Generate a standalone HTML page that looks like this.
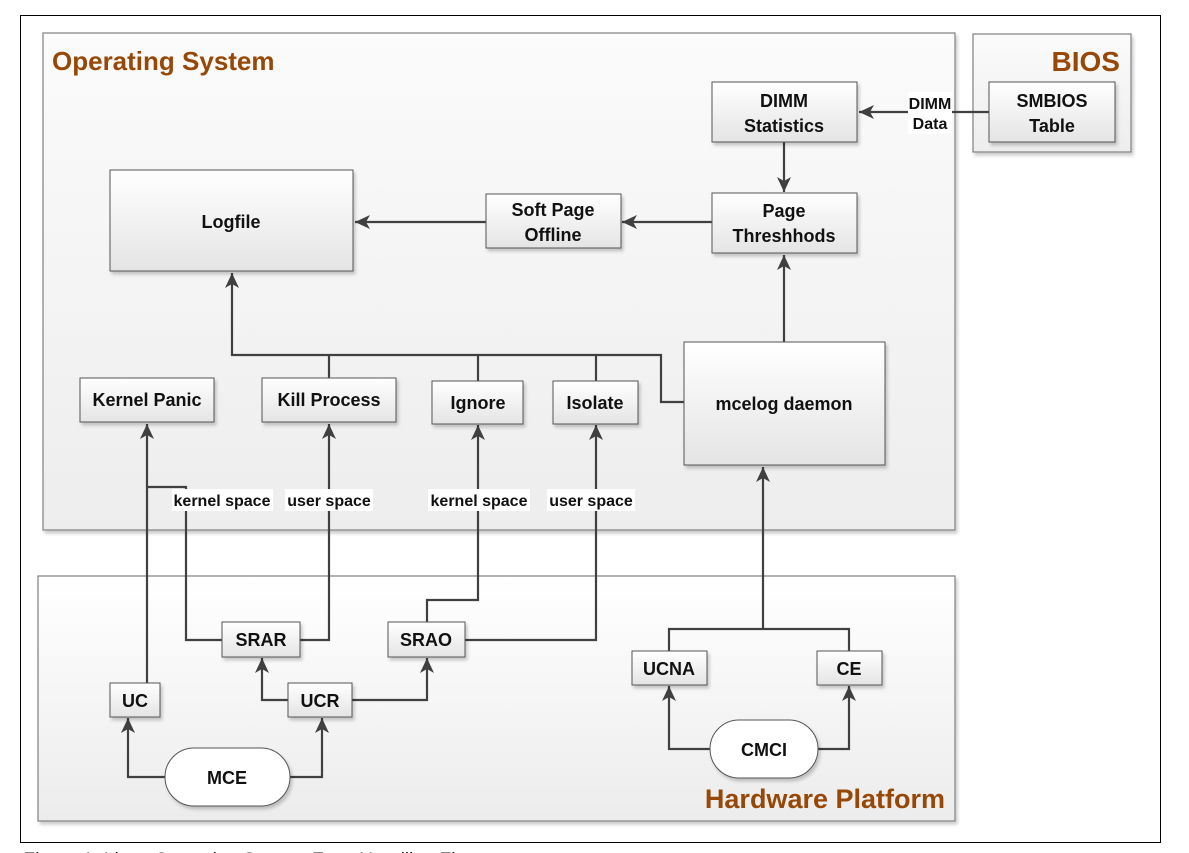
<!DOCTYPE html>
<html><head><meta charset="utf-8"><style>
html,body{margin:0;padding:0;background:#fff;width:1189px;height:853px;overflow:hidden}
svg{display:block}
text{font-family:"Liberation Sans",sans-serif;font-weight:bold;fill:#111}
</style></head><body>
<svg width="1189" height="853" viewBox="0 0 1189 853" xmlns="http://www.w3.org/2000/svg">
<defs>
<linearGradient id="g" x1="0" y1="0" x2="0" y2="1"><stop offset="0" stop-color="#ffffff"/><stop offset="1" stop-color="#e4e4e4"/></linearGradient>
<linearGradient id="cont" x1="0" y1="0" x2="0" y2="1"><stop offset="0" stop-color="#fbfbfb"/><stop offset="1" stop-color="#ededed"/></linearGradient>
<linearGradient id="hw" x1="0" y1="0" x2="0" y2="1"><stop offset="0" stop-color="#ffffff"/><stop offset="1" stop-color="#ececec"/></linearGradient>
<filter id="sh" x="-10%" y="-10%" width="130%" height="140%"><feDropShadow dx="2" dy="3" stdDeviation="1.5" flood-color="#000" flood-opacity="0.2"/></filter>
<marker id="a" markerWidth="16" markerHeight="14" refX="15" refY="7" orient="auto" markerUnits="userSpaceOnUse"><path d="M0,0 L15,7 L0,14 L4,7 z" fill="#404040"/></marker>
</defs>
<rect x="20.5" y="15.5" width="1140" height="827" fill="#fff" stroke="#000" stroke-width="1"/>
<rect x="43" y="33" width="912" height="497" fill="url(#cont)" stroke="#808080" stroke-width="1.2" filter="url(#sh)"/>
<rect x="38" y="576" width="917" height="245" fill="url(#hw)" stroke="#808080" stroke-width="1.2" filter="url(#sh)"/>
<rect x="973" y="34" width="158" height="118" fill="url(#cont)" stroke="#808080" stroke-width="1.2" filter="url(#sh)"/>
<text x="52" y="70" font-size="26" style="fill:#974806">Operating System</text>
<text x="1120" y="71" font-size="28" text-anchor="end" style="fill:#974806">BIOS</text>
<text x="945" y="808" font-size="27" text-anchor="end" style="fill:#974806">Hardware Platform</text>

<g stroke="#404040" stroke-width="2.2" fill="none">
<line x1="989" y1="112" x2="859" y2="112" marker-end="url(#a)"/>
<line x1="784" y1="142" x2="784" y2="192" marker-end="url(#a)"/>
<line x1="712" y1="222" x2="622" y2="222" marker-end="url(#a)"/>
<line x1="486" y1="222" x2="355" y2="222" marker-end="url(#a)"/>
<line x1="784" y1="342" x2="784" y2="255" marker-end="url(#a)"/>
<polyline points="684,402 661,402 661,355 232,355 232,273" marker-end="url(#a)"/>
<line x1="329" y1="355" x2="329" y2="378"/>
<line x1="478" y1="355" x2="478" y2="381"/>
<line x1="596" y1="355" x2="596" y2="381"/>
<line x1="147" y1="683" x2="147" y2="424" marker-end="url(#a)"/>
<polyline points="147,487 186,487 186,640 222,640"/>
<polyline points="300,640 329,640 329,424" marker-end="url(#a)"/>
<polyline points="427,622 427,600 478,600 478,425" marker-end="url(#a)"/>
<polyline points="465,640 596,640 596,425" marker-end="url(#a)"/>
<polyline points="165,777 128,777 128,718" marker-end="url(#a)"/>
<polyline points="290,777 322,777 322,718" marker-end="url(#a)"/>
<polyline points="288,700 262,700 262,658" marker-end="url(#a)"/>
<polyline points="352,700 427,700 427,658" marker-end="url(#a)"/>
<line x1="763" y1="629" x2="763" y2="467" marker-end="url(#a)"/>
<polyline points="669,651 669,629 849,629 849,651"/>
<polyline points="710,749 669,749 669,686" marker-end="url(#a)"/>
<polyline points="818,749 849,749 849,686" marker-end="url(#a)"/>
</g>

<rect x="908" y="92" width="44" height="42" fill="#fff"/>
<text x="930" y="109" font-size="16" text-anchor="middle">DIMM</text>
<text x="930" y="129" font-size="16" text-anchor="middle">Data</text>
<rect x="172" y="489" width="101" height="22" fill="#fff"/>
<text x="222" y="506" font-size="16" text-anchor="middle">kernel space</text>
<rect x="285" y="489" width="88" height="22" fill="#fff"/>
<text x="329" y="506" font-size="16" text-anchor="middle">user space</text>
<rect x="428" y="489" width="102" height="22" fill="#fff"/>
<text x="479" y="506" font-size="16" text-anchor="middle">kernel space</text>
<rect x="547" y="489" width="88" height="22" fill="#fff"/>
<text x="591" y="506" font-size="16" text-anchor="middle">user space</text>

<g fill="url(#g)" stroke="#555" stroke-width="1" filter="url(#sh)">
<rect x="989" y="82" width="126" height="60"/>
<rect x="712" y="82" width="145" height="60"/>
<rect x="712" y="193" width="145" height="60"/>
<rect x="486" y="194" width="135" height="54"/>
<rect x="110" y="170" width="243" height="101"/>
<rect x="684" y="342" width="201" height="123"/>
<rect x="80" y="378" width="134" height="44"/>
<rect x="262" y="378" width="134" height="44"/>
<rect x="432" y="381" width="91" height="43"/>
<rect x="553" y="381" width="85" height="43"/>
<rect x="222" y="622" width="78" height="35"/>
<rect x="388" y="622" width="77" height="35"/>
<rect x="110" y="683" width="50" height="34"/>
<rect x="288" y="683" width="64" height="34"/>
<rect x="632" y="651" width="75" height="34"/>
<rect x="817" y="651" width="65" height="34"/>
<rect x="165" y="748" width="125" height="58" rx="29" fill="#fff"/>
<rect x="710" y="720" width="108" height="58" rx="29" fill="#fff"/>
</g>
<g font-size="18" text-anchor="middle">
<text x="1052" y="107">SMBIOS</text><text x="1052" y="132">Table</text>
<text x="784" y="107">DIMM</text><text x="784" y="132">Statistics</text>
<text x="784" y="217">Page</text><text x="784" y="242">Threshhods</text>
<text x="553" y="216">Soft Page</text><text x="553" y="241">Offline</text>
<text x="231" y="228">Logfile</text>
<text x="784" y="410">mcelog daemon</text>
<text x="147" y="406">Kernel Panic</text>
<text x="329" y="406">Kill Process</text>
<text x="478" y="409">Ignore</text>
<text x="595" y="409">Isolate</text>
<text x="261" y="646">SRAR</text>
<text x="426" y="646">SRAO</text>
<text x="135" y="707">UC</text>
<text x="320" y="707">UCR</text>
<text x="669" y="675">UCNA</text>
<text x="849" y="675">CE</text>
<text x="227" y="784">MCE</text>
<text x="764" y="756">CMCI</text>
</g>
<text x="22" y="866" font-size="19" style="font-weight:normal;font-style:italic">Figure 1: Linux Operating System Error Handling Flow</text>
</svg>
</body></html>
